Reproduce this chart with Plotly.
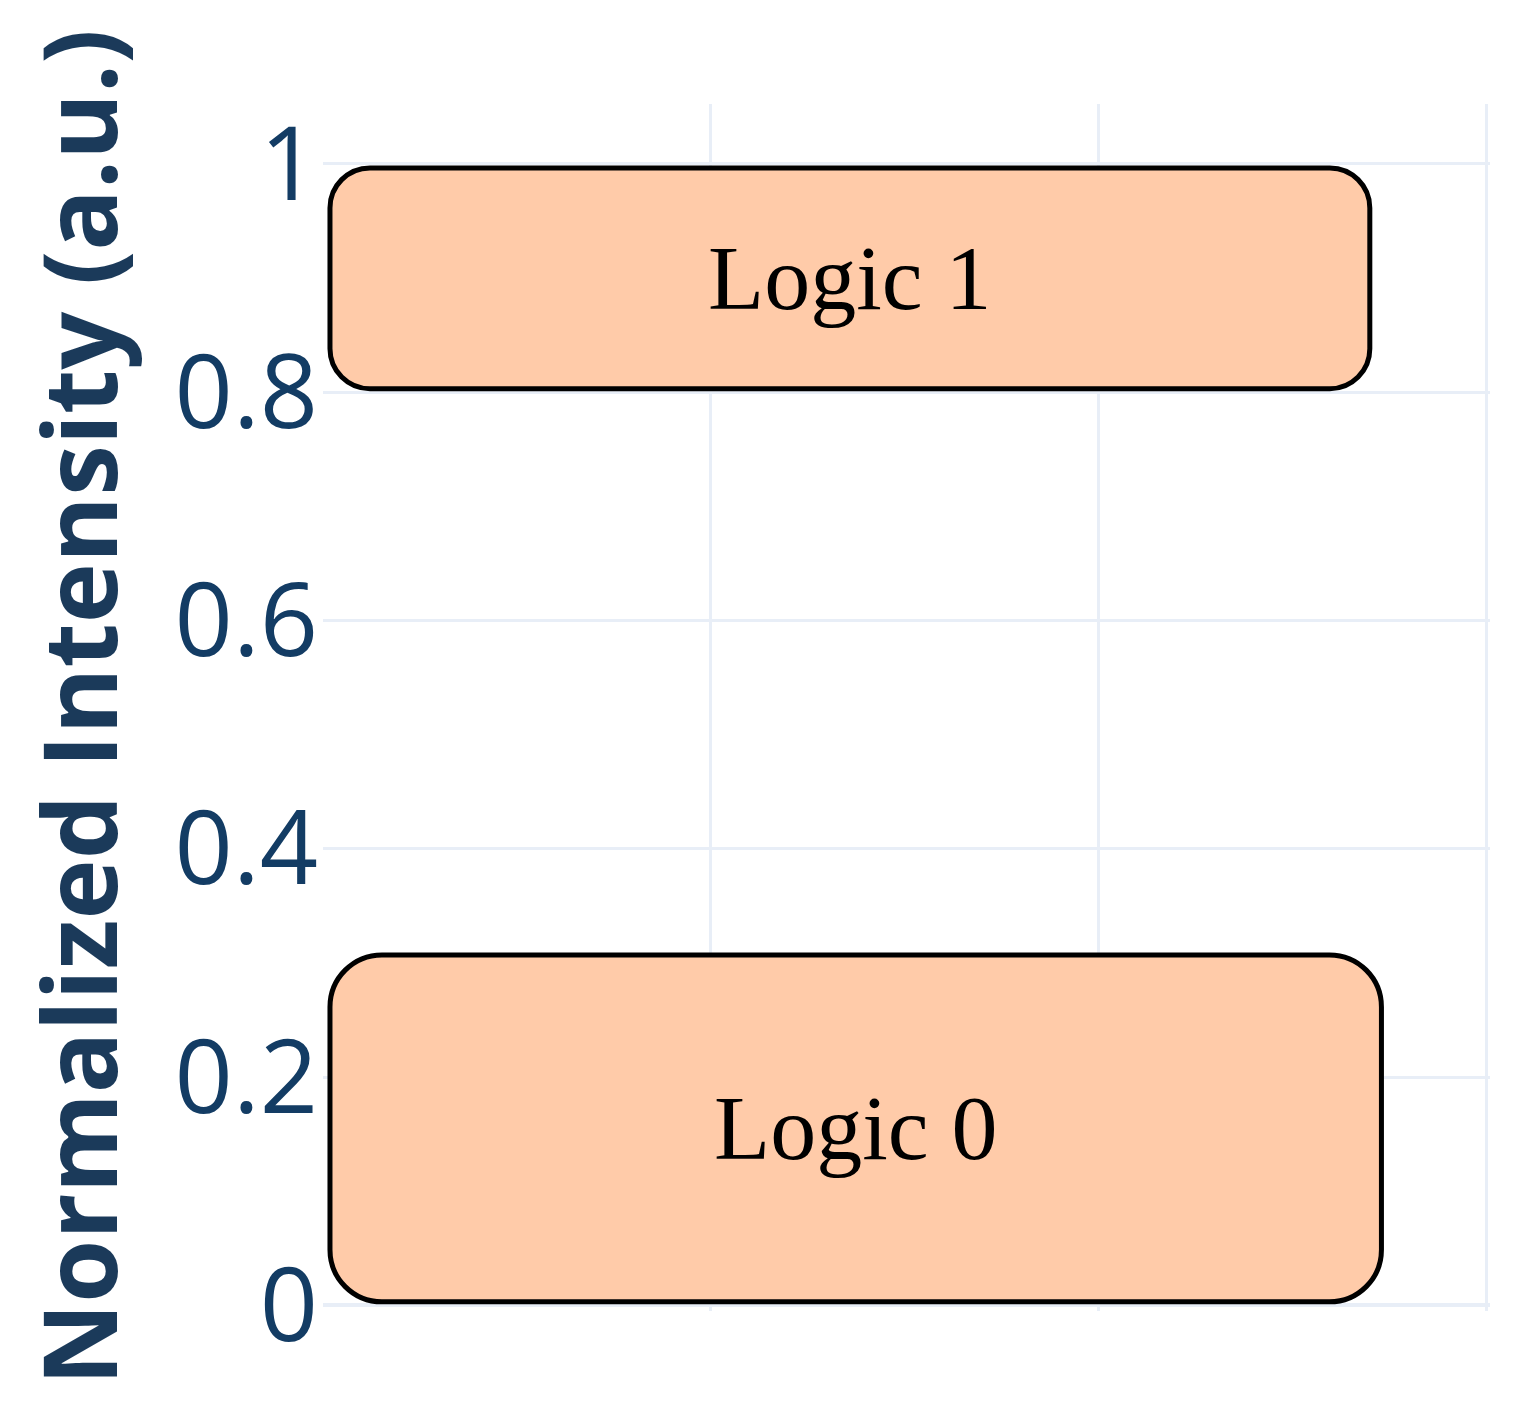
import plotly.graph_objects as go

# ---- data ----
labels = ["Logic 1", "Logic 0"]
x_start = [0.018, 0.018]
x_end = [2.70, 2.73]
y_low = [0.803, 0.003]
y_high = [0.9965, 0.307]
y_ticks = [0, 0.2, 0.4, 0.6, 0.8, 1]
y_ticktext = ["0", "0.2", "0.4", "0.6", "0.8", "1"]
x_grid = [0, 1, 2, 3]

# ---- layout geometry ----
W, H = 1532, 1401
ML, MR, MT, MB = 315, 50, 96, 98
xr = [0, 3.01]
yr = [-0.005, 1.0525]
px_x = (W - ML - MR) / (xr[1] - xr[0])
px_y = (H - MT - MB) / (yr[1] - yr[0])
radii_px = [40, 52]
K = 0.5523

def rounded_path(x0, x1, y0, y1, r):
    rx, ry = r / px_x, r / px_y
    kx, ky = rx * (1 - K), ry * (1 - K)
    return (f"M {x0+rx},{y0} L {x1-rx},{y0} "
            f"C {x1-kx},{y0} {x1},{y0+ky} {x1},{y0+ry} "
            f"L {x1},{y1-ry} "
            f"C {x1},{y1-ky} {x1-kx},{y1} {x1-rx},{y1} "
            f"L {x0+rx},{y1} "
            f"C {x0+kx},{y1} {x0},{y1-ky} {x0},{y1-ry} "
            f"L {x0},{y0+ry} "
            f"C {x0},{y0+ky} {x0+kx},{y0} {x0+rx},{y0} Z")

fig = go.Figure()
fig.add_trace(go.Scatter(x=[None], y=[None], showlegend=False))

for lab, a, b, lo, hi, r in zip(labels, x_start, x_end, y_low, y_high, radii_px):
    fig.add_shape(type="path", path=rounded_path(a, b, lo, hi, r),
                  xref="x", yref="y", fillcolor="#FFCBA9",
                  line=dict(color="black", width=5), layer="above")
    fig.add_annotation(x=(a + b) / 2, y=(lo + hi) / 2, text=lab, showarrow=False,
                       xref="x", yref="y",
                       font=dict(family="Liberation Serif", size=92, color="black"))

fig.update_layout(
    width=W, height=H,
    template="plotly_white",
    margin=dict(l=ML, r=MR, t=MT, b=MB, autoexpand=False),
    paper_bgcolor="white", plot_bgcolor="white",
    showlegend=False,
    xaxis=dict(range=xr, tickvals=x_grid, showticklabels=False,
               showgrid=True, gridcolor="#E8EEF7", gridwidth=3,
               zeroline=False, showline=False),
    yaxis=dict(range=yr, tickvals=y_ticks, ticktext=y_ticktext,
               showgrid=True, gridcolor="#E8EEF7", gridwidth=3,
               zeroline=True, zerolinecolor="#E8EEF7", zerolinewidth=4,
               showline=False, ticks="", ticklabelstandoff=4,
               tickfont=dict(family="Open Sans", size=102, color="#133c64"),
               title=dict(text="Normalized Intensity (a.u.)", standoff=40,
                          font=dict(family="Open Sans", size=102, color="#1b3a5a", weight="bold"))),
)

fig.write_html("out.html")
